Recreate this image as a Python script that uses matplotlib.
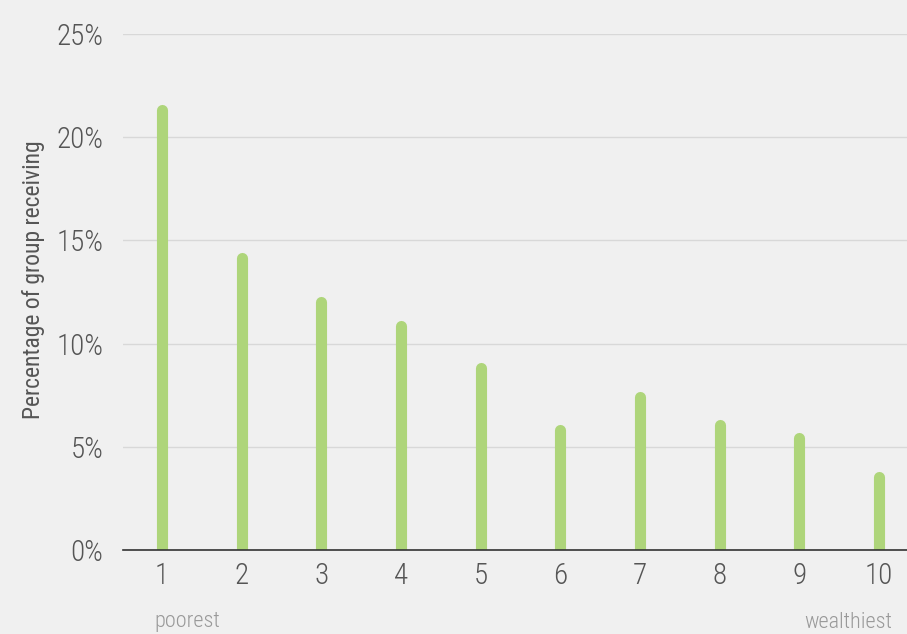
import matplotlib
matplotlib.use("Agg")
import matplotlib.pyplot as plt

plt.rcParams['font.family'] = ['Roboto Condensed', 'DejaVu Sans']
plt.rcParams['font.weight'] = 'light'

deciles = [1, 2, 3, 4, 5, 6, 7, 8, 9, 10]
pct = [21.6, 14.4, 12.3, 11.1, 9.1, 6.1, 7.7, 6.3, 5.7, 3.8]
yticks = [0, 5, 10, 15, 20, 25]
ylabels = ["0%", "5%", "10%", "15%", "20%", "25%"]

bg = "#f0f0f0"
green = "#aed57a"
fig = plt.figure(figsize=(9.07, 6.34), dpi=100, facecolor=bg)
ax = fig.add_axes([0.1356, 0.1325, 0.8644, 0.8139], facecolor=bg)

# rounded top: line with round caps, stopped a cap radius short of the value
r = 5.5 / 516 * 25
ax.vlines(deciles, -1, [v - r for v in pct], colors=green, linewidth=8,
          capstyle='round', zorder=2)

ax.set_xlim(0.51, 10.35)
ax.set_ylim(0, 25)
ax.set_yticks(yticks)
ax.set_yticklabels(ylabels)
ax.set_xticks(deciles)
ax.grid(axis='y', color='#d8d8d8', linewidth=1)
ax.set_axisbelow(True)
for s in ['top', 'right', 'left']:
    ax.spines[s].set_visible(False)
ax.spines['bottom'].set_color('#333333')
ax.spines['bottom'].set_linewidth(1.2)
ax.spines['bottom'].set_zorder(3)
ax.tick_params(length=0, labelsize=21, labelcolor='#555555')
ax.tick_params(axis='y', pad=14)
ax.tick_params(axis='x', pad=9)
ax.set_ylabel("Percentage of group receiving", fontsize=17, color='#555555')
ax.yaxis.set_label_coords(-0.1, 0.523)

fig.text(154 / 907, 1 - 622 / 634, "poorest", fontsize=16, color='#999999',
         ha='left', va='center')
fig.text(892 / 907, 1 - 622 / 634, "wealthiest", fontsize=16, color='#999999',
         ha='right', va='center')

fig.savefig("out.png", dpi=100, facecolor=bg)
